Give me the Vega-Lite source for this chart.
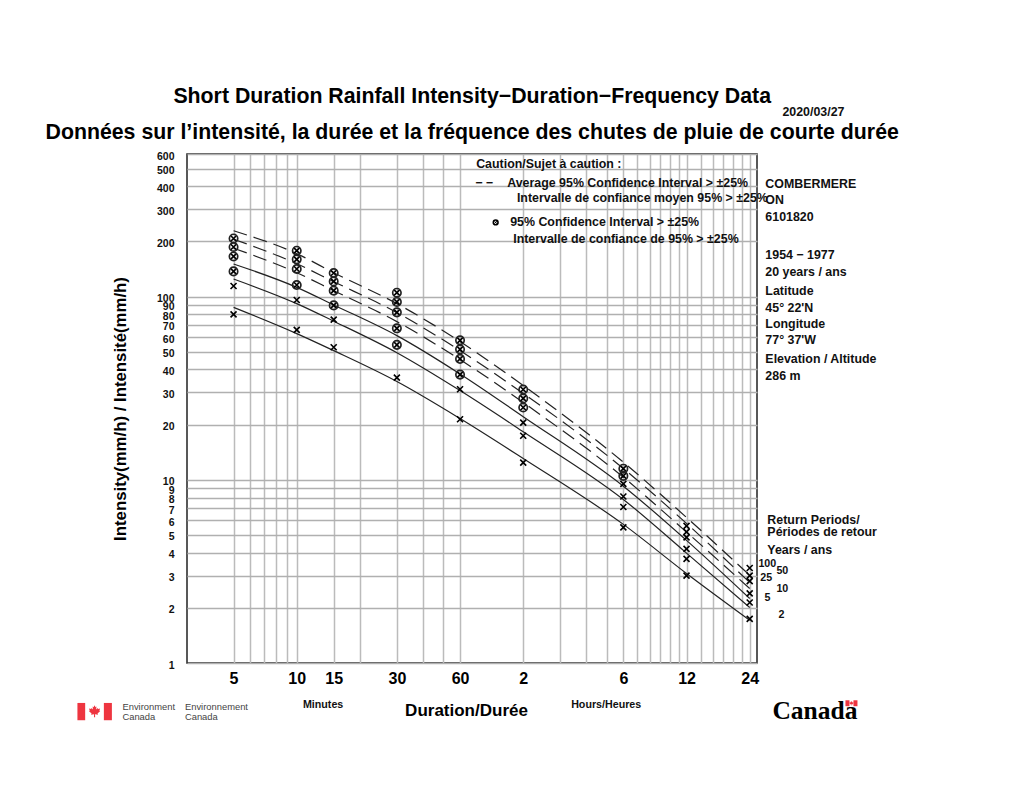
{
"$schema":"https://vega.github.io/schema/vega-lite/v6.json",
"autosize":{"type":"none"},
"padding":{"left":187,"top":154,"right":267,"bottom":128},
"width":570,"height":509,
"background":"white",
"config":{"view":{"stroke":"#222","strokeWidth":1.5},"font":"Liberation Sans"},
"datasets":{
"curves":[
{"period":"100","duration":5,"intensity":228.7},{"period":"100","duration":10,"intensity":171.4},{"period":"100","duration":15,"intensity":135},{"period":"100","duration":30,"intensity":91.5},{"period":"100","duration":60,"intensity":56.8},{"period":"100","duration":120,"intensity":32.7},{"period":"100","duration":360,"intensity":12.47},{"period":"100","duration":720,"intensity":6.23},{"period":"100","duration":1440,"intensity":3.01},
{"period":"50","duration":5,"intensity":205.6},{"period":"50","duration":10,"intensity":151.1},{"period":"50","duration":15,"intensity":120.6},{"period":"50","duration":30,"intensity":81.7},{"period":"50","duration":60,"intensity":50.7},{"period":"50","duration":120,"intensity":29.6},{"period":"50","duration":360,"intensity":11.52},{"period":"50","duration":720,"intensity":5.78},{"period":"50","duration":1440,"intensity":2.75},
{"period":"25","duration":5,"intensity":183.6},{"period":"25","duration":10,"intensity":135},{"period":"25","duration":15,"intensity":107.7},{"period":"25","duration":30,"intensity":73},{"period":"25","duration":60,"intensity":45.3},{"period":"25","duration":120,"intensity":26.4},{"period":"25","duration":360,"intensity":10.33},{"period":"25","duration":720,"intensity":5.18},{"period":"25","duration":1440,"intensity":2.55},
{"period":"10","duration":5,"intensity":150.6},{"period":"10","duration":10,"intensity":112.3},{"period":"10","duration":15,"intensity":90},{"period":"10","duration":30,"intensity":61.2},{"period":"10","duration":60,"intensity":37.8},{"period":"10","duration":120,"intensity":22.1},{"period":"10","duration":360,"intensity":9.23},{"period":"10","duration":720,"intensity":4.67},{"period":"10","duration":1440,"intensity":2.25},
{"period":"5","duration":5,"intensity":124.7},{"period":"5","duration":10,"intensity":91.5},{"period":"5","duration":15,"intensity":73.4},{"period":"5","duration":30,"intensity":49.4},{"period":"5","duration":60,"intensity":30.7},{"period":"5","duration":120,"intensity":18.3},{"period":"5","duration":360,"intensity":7.81},{"period":"5","duration":720,"intensity":3.98},{"period":"5","duration":1440,"intensity":2.01},
{"period":"2","duration":5,"intensity":87.3},{"period":"2","duration":10,"intensity":62.8},{"period":"2","duration":15,"intensity":50.7},{"period":"2","duration":30,"intensity":34.4},{"period":"2","duration":60,"intensity":21.6},{"period":"2","duration":120,"intensity":13.07},{"period":"2","duration":360,"intensity":5.71},{"period":"2","duration":720,"intensity":3.08},{"period":"2","duration":1440,"intensity":1.71}
],
"observed":[
{"duration":5,"period":"100","intensity":207.6,"flagged":true},{"duration":5,"period":"50","intensity":186.4,"flagged":true},{"duration":5,"period":"25","intensity":165.6,"flagged":true},{"duration":5,"period":"10","intensity":137.2,"flagged":true},{"duration":5,"period":"5","intensity":114.2,"flagged":false},{"duration":5,"period":"2","intensity":80,"flagged":false},
{"duration":10,"period":"100","intensity":178,"flagged":true},{"duration":10,"period":"50","intensity":159.6,"flagged":true},{"duration":10,"period":"25","intensity":141.4,"flagged":true},{"duration":10,"period":"10","intensity":115.7,"flagged":true},{"duration":10,"period":"5","intensity":95.8,"flagged":false},{"duration":10,"period":"2","intensity":65.8,"flagged":false},
{"duration":15,"period":"100","intensity":134.5,"flagged":true},{"duration":15,"period":"50","intensity":121,"flagged":true},{"duration":15,"period":"25","intensity":107.7,"flagged":true},{"duration":15,"period":"10","intensity":89.5,"flagged":true},{"duration":15,"period":"5","intensity":74.8,"flagged":false},{"duration":15,"period":"2","intensity":52.9,"flagged":false},
{"duration":30,"period":"100","intensity":105,"flagged":true},{"duration":30,"period":"50","intensity":93.5,"flagged":true},{"duration":30,"period":"25","intensity":82,"flagged":true},{"duration":30,"period":"10","intensity":67.1,"flagged":true},{"duration":30,"period":"5","intensity":54.5,"flagged":true},{"duration":30,"period":"2","intensity":36.1,"flagged":false},
{"duration":60,"period":"100","intensity":57.7,"flagged":true},{"duration":60,"period":"50","intensity":51.5,"flagged":true},{"duration":60,"period":"25","intensity":45.7,"flagged":true},{"duration":60,"period":"10","intensity":37.5,"flagged":true},{"duration":60,"period":"5","intensity":31.2,"flagged":false},{"duration":60,"period":"2","intensity":21.4,"flagged":false},
{"duration":120,"period":"100","intensity":31.1,"flagged":true},{"duration":120,"period":"50","intensity":27.8,"flagged":true},{"duration":120,"period":"25","intensity":24.8,"flagged":true},{"duration":120,"period":"10","intensity":20.5,"flagged":false},{"duration":120,"period":"5","intensity":17.4,"flagged":false},{"duration":120,"period":"2","intensity":12.4,"flagged":false},
{"duration":360,"period":"100","intensity":11.5,"flagged":true},{"duration":360,"period":"50","intensity":10.5,"flagged":true},{"duration":360,"period":"25","intensity":9.5,"flagged":false},{"duration":360,"period":"10","intensity":8.1,"flagged":false},{"duration":360,"period":"5","intensity":7.1,"flagged":false},{"duration":360,"period":"2","intensity":5.5,"flagged":false},
{"duration":720,"period":"100","intensity":5.6,"flagged":false},{"duration":720,"period":"50","intensity":5.2,"flagged":false},{"duration":720,"period":"25","intensity":4.85,"flagged":false},{"duration":720,"period":"10","intensity":4.2,"flagged":false},{"duration":720,"period":"5","intensity":3.7,"flagged":false},{"duration":720,"period":"2","intensity":3,"flagged":false},
{"duration":1440,"period":"100","intensity":3.3,"flagged":false},{"duration":1440,"period":"50","intensity":3,"flagged":false},{"duration":1440,"period":"25","intensity":2.8,"flagged":false},{"duration":1440,"period":"10","intensity":2.4,"flagged":false},{"duration":1440,"period":"5","intensity":2.14,"flagged":false},{"duration":1440,"period":"2","intensity":1.74,"flagged":false}
],
"legendKey":[{"duration":88.7,"intensity":254}],
"headings":[
{"duration":68.55,"intensity":1230,"text":"Short Duration Rainfall Intensity−Duration−Frequency Data"},
{"duration":68.55,"intensity":783,"text":"Données sur l’intensité, la durée et la fréquence des chutes de pluie de courte durée"}
],
"notes":[
{"duration":2062,"intensity":1019,"text":"2020/03/27"},
{"duration":71.6,"intensity":530.5,"text":"Caution/Sujet à caution :"},
{"duration":70.8,"intensity":418,"text":"−  −"},
{"duration":100.7,"intensity":418,"text":"Average 95% Confidence Interval > ±25%"},
{"duration":112,"intensity":346,"text":"Intervalle de confiance moyen 95% > ±25%"},
{"duration":104,"intensity":254,"text":"95% Confidence Interval > ±25%"},
{"duration":107.5,"intensity":207,"text":"Intervalle de confiance de 95% > ±25%"},
{"duration":1710,"intensity":412.6,"text":"COMBERMERE"},
{"duration":1710,"intensity":337.6,"text":"ON"},
{"duration":1710,"intensity":272.7,"text":"6101820"},
{"duration":1710,"intensity":168,"text":"1954 − 1977"},
{"duration":1710,"intensity":136.7,"text":"20 years / ans"},
{"duration":1710,"intensity":107,"text":"Latitude"},
{"duration":1710,"intensity":87,"text":"45°  22'N"},
{"duration":1710,"intensity":71.2,"text":"Longitude"},
{"duration":1710,"intensity":58.2,"text":"77° 37'W"},
{"duration":1710,"intensity":45.5,"text":"Elevation / Altitude"},
{"duration":1710,"intensity":37,"text":"286 m"},
{"duration":1748,"intensity":6.07,"text":"Return Periods/"},
{"duration":1748,"intensity":5.16,"text":"Périodes de retour"},
{"duration":1748,"intensity":4.14,"text":"Years / ans"}
],
"smallNotes":[
{"duration":1584,"intensity":3.45,"text":"100"},
{"duration":1930,"intensity":3.16,"text":"50"},
{"duration":1618,"intensity":2.9,"text":"25"},
{"duration":1930,"intensity":2.52,"text":"10"},
{"duration":1692,"intensity":2.25,"text":"5"},
{"duration":1973,"intensity":1.83,"text":"2"},
{"duration":10.7,"intensity":0.588,"text":"Minutes"},
{"duration":203,"intensity":0.588,"text":"Hours/Heures"}
],
"signature":[
{"duration":1.477,"intensity":0.5735,"text":"Environment"},
{"duration":1.477,"intensity":0.5057,"text":"Canada"},
{"duration":2.932,"intensity":0.5735,"text":"Environnement"},
{"duration":2.932,"intensity":0.5057,"text":"Canada"}
],
"wordmark":[{"duration":1847,"intensity":0.5454,"text":"Canada"}],
"flagBars":[
{"duration":0.9016,"duration2":0.9816,"intensity":0.6053,"intensity2":0.4871},
{"duration":1.205,"duration2":1.316,"intensity":0.6053,"intensity2":0.4871},
{"duration":4117,"duration2":4303,"intensity":0.626,"intensity2":0.581},
{"duration":4495,"duration2":4697,"intensity":0.626,"intensity2":0.581}
],
"leafLarge":[{"duration":1.088,"intensity":0.5454}],
"leafSmall":[{"duration":4398,"intensity":0.603}]
},
"encoding":{
"x":{"field":"duration","type":"quantitative","scale":{"type":"log","domain":[3,1560],"nice":false},
"axis":{"title":"Duration/Durée","titleFontSize":17,"titleFontWeight":"bold","titleColor":"#000","titleX":279,"titleY":39,"values":[5,6,7,8,9,10,15,20,30,40,50,60,120,180,240,300,360,420,480,540,600,660,720,840,960,1080,1200,1320,1440],"format":"d","labelExpr":"datum.value==120?'2':datum.value==360?'6':datum.value==720?'12':datum.value==1440?'24':indexof([5,10,15,30,60],datum.value)>=0?datum.label:''","labelFontSize":16,"labelFontWeight":"bold","labelColor":"#000","labelPadding":7,"labelOverlap":false,"labelFlush":false,"labelBound":false,"ticks":false,"domain":false,"grid":true,"gridColor":"#bbbbbb","gridWidth":1.5,"gridOpacity":1}},
"y":{"field":"intensity","type":"quantitative","scale":{"type":"log","domain":[1,600],"nice":false},
"axis":{"title":"Intensity(mm/h) / Intensité(mm/h)","titleFontSize":16.8,"titleFontWeight":"bold","titleColor":"#000","titlePadding":27,"values":[1,2,3,4,5,6,7,8,9,10,20,30,40,50,60,70,80,90,100,200,300,400,500,600],"format":"d","labelFontSize":10.5,"labelFontWeight":"bold","labelColor":"#111","labelPadding":13,"labelOffset":2,"labelOverlap":false,"labelFlush":false,"labelBound":false,"ticks":false,"domain":false,"grid":true,"gridColor":"#b0b0b0","gridWidth":1.3,"gridOpacity":1}}
},
"layer":[
{"data":{"name":"curves"},"transform":[{"filter":"datum.period=='100'||datum.period=='50'||datum.period=='25'"}],"mark":{"type":"line","interpolate":"monotone","stroke":"#222","strokeWidth":1.2,"strokeDash":[14,7]},"encoding":{"detail":{"field":"period"}}},
{"data":{"name":"curves"},"transform":[{"filter":"datum.period=='10'||datum.period=='5'||datum.period=='2'"}],"mark":{"type":"line","interpolate":"monotone","stroke":"#222","strokeWidth":1.2},"encoding":{"detail":{"field":"period"}}},
{"data":{"name":"observed"},"mark":{"type":"point","shape":"M-1,-1L1,1M-1,1L1,-1","filled":false,"stroke":"#000","strokeWidth":1.6,"size":36,"opacity":1}},
{"data":{"name":"observed"},"transform":[{"filter":"datum.flagged"}],"mark":{"type":"point","shape":"circle","filled":false,"stroke":"#222","strokeWidth":1.7,"size":70,"opacity":1}},
{"data":{"name":"legendKey"},"mark":{"type":"point","shape":"circle","filled":false,"stroke":"#000","strokeWidth":1.6,"size":22,"opacity":1}},
{"data":{"name":"legendKey"},"mark":{"type":"point","shape":"M-1,-1L1,1M-1,1L1,-1","filled":false,"stroke":"#000","strokeWidth":1,"size":6,"opacity":1}},
{"data":{"name":"headings"},"mark":{"type":"text","font":"Liberation Sans","fontWeight":"bold","fontSize":21.3,"align":"center","baseline":"middle","color":"#000"},"encoding":{"text":{"field":"text"}}},
{"data":{"name":"notes"},"mark":{"type":"text","font":"Liberation Sans","fontWeight":"bold","fontSize":12.4,"align":"left","baseline":"middle","color":"#111"},"encoding":{"text":{"field":"text"}}},
{"data":{"name":"smallNotes"},"mark":{"type":"text","font":"Liberation Sans","fontWeight":"bold","fontSize":10.7,"align":"left","baseline":"middle","color":"#111"},"encoding":{"text":{"field":"text"}}},
{"data":{"name":"signature"},"mark":{"type":"text","font":"Liberation Sans","fontSize":9.4,"align":"left","baseline":"middle","color":"#444"},"encoding":{"text":{"field":"text"}}},
{"data":{"name":"wordmark"},"mark":{"type":"text","font":"Liberation Serif","fontWeight":"bold","fontSize":25.5,"align":"left","baseline":"middle","color":"#000"},"encoding":{"text":{"field":"text"}}},
{"data":{"name":"flagBars"},"mark":{"type":"rect","color":"#ee3540"},"encoding":{"x2":{"field":"duration2"},"y2":{"field":"intensity2"}}},
{"data":{"name":"leafLarge"},"mark":{"type":"point","filled":true,"color":"#ee3540","opacity":1,"size":144,"shape":"M0,-1L0.17,-0.68L0.33,-0.78L0.25,-0.3L0.5,-0.55L0.58,-0.38L0.92,-0.44L0.8,-0.1L0.95,-0.02L0.5,0.37L0.58,0.58L0.08,0.5L0.1,1L-0.1,1L-0.08,0.5L-0.58,0.58L-0.5,0.37L-0.95,-0.02L-0.8,-0.1L-0.92,-0.44L-0.58,-0.38L-0.5,-0.55L-0.25,-0.3L-0.33,-0.78L-0.17,-0.68Z"}},
{"data":{"name":"leafSmall"},"mark":{"type":"point","filled":true,"color":"#ee3540","opacity":1,"size":20,"shape":"M0,-1L0.17,-0.68L0.33,-0.78L0.25,-0.3L0.5,-0.55L0.58,-0.38L0.92,-0.44L0.8,-0.1L0.95,-0.02L0.5,0.37L0.58,0.58L0.08,0.5L0.1,1L-0.1,1L-0.08,0.5L-0.58,0.58L-0.5,0.37L-0.95,-0.02L-0.8,-0.1L-0.92,-0.44L-0.58,-0.38L-0.5,-0.55L-0.25,-0.3L-0.33,-0.78L-0.17,-0.68Z"}}
]
}
